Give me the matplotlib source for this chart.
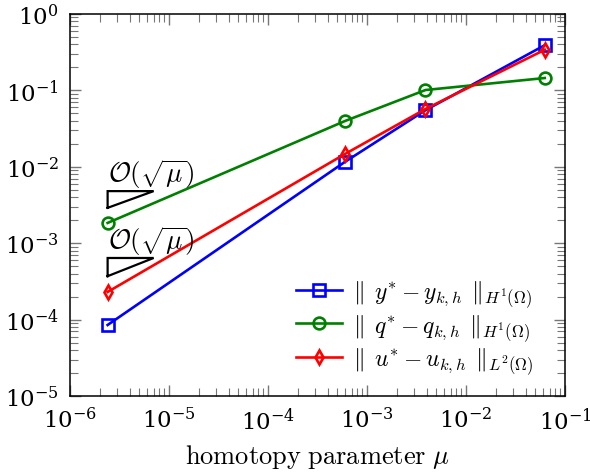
import numpy as np
import matplotlib
matplotlib.use("Agg")
import matplotlib.pyplot as plt
from matplotlib.ticker import LogLocator, NullFormatter

plt.rcParams["mathtext.fontset"] = "cm"
plt.rcParams["font.family"] = ["DejaVu Serif"]

# homotopy parameter and error norms
mu = [2.4e-6, 6.0e-4, 3.9e-3, 6.25e-2]
err_y = [8.5e-5, 1.16e-2, 5.5e-2, 3.9e-1]
err_q = [1.84e-3, 3.97e-2, 1.01e-1, 1.45e-1]
err_u = [2.3e-4, 1.47e-2, 5.7e-2, 3.4e-1]

# slope triangles: (x0, x1, y_low, y_high)
tri_upper = [2.4e-6, 7.0e-6, 2.9e-3, 4.8e-3]
tri_lower = [2.4e-6, 7.0e-6, 3.7e-4, 6.4e-4]
tri_label = r"$\mathcal{O}(\sqrt{\mu})$"

labels = [
    r"$\|\;\, y^{*} - y_{k,h}\;\, \|_{H^1(\Omega)}$",
    r"$\|\;\, q^{*} - q_{k,h}\;\, \|_{H^1(\Omega)}$",
    r"$\|\;\, u^{*} - u_{k,h}\;\, \|_{L^2(\Omega)}$",
]

fig = plt.figure(figsize=(5.9, 4.77), dpi=100)
ax = fig.add_axes([0.1186, 0.1677, 0.839, 0.801])

ax.plot(mu, err_y, color="blue", lw=1.9, marker="s", ms=8.5,
        mfc="none", mew=1.9, label=labels[0])
ax.plot(mu, err_q, color="green", lw=1.9, marker="o", ms=8.5,
        mfc="none", mew=1.9, label=labels[1])
ax.plot(mu, err_u, color="red", lw=1.9, marker="d", ms=7,
        mfc="none", mew=1.9, label=labels[2])

for t in (tri_upper, tri_lower):
    x0, x1, ylo, yhi = t
    ax.plot([x0, x1, x0, x0], [ylo, yhi, yhi, ylo], color="black", lw=1.6,
            solid_joinstyle="miter")
    ax.text(x0, yhi * 1.02, tri_label, fontsize=19.5, ha="left", va="bottom")

ax.set_xscale("log")
ax.set_yscale("log")
ax.set_xlim(1e-6, 1e-1)
ax.set_ylim(1e-5, 1e0)

ax.xaxis.set_major_locator(LogLocator(base=10, numticks=10))
ax.yaxis.set_major_locator(LogLocator(base=10, numticks=10))
ax.xaxis.set_minor_locator(LogLocator(base=10, subs=np.arange(2, 10), numticks=10))
ax.yaxis.set_minor_locator(LogLocator(base=10, subs=np.arange(2, 10), numticks=10))
ax.xaxis.set_minor_formatter(NullFormatter())
ax.yaxis.set_minor_formatter(NullFormatter())

ax.tick_params(which="both", direction="in", top=True, right=True,
               color="#777777", labelsize=16.5)
ax.tick_params(which="major", length=8, width=1.0, pad=8)
ax.tick_params(which="minor", length=5.5, width=0.8)
for s in ax.spines.values():
    s.set_linewidth(1.1)

ax.set_xlabel(r"$\mathrm{homotopy\ parameter}\ \mu$", fontsize=19, labelpad=6)

ax.legend(loc="lower right", bbox_to_anchor=(0.965, 0.015), frameon=False,
          fontsize=17, handlelength=1.95, handletextpad=0.45,
          labelspacing=0.12, borderaxespad=0.2)

fig.savefig("out.png", dpi=100)
